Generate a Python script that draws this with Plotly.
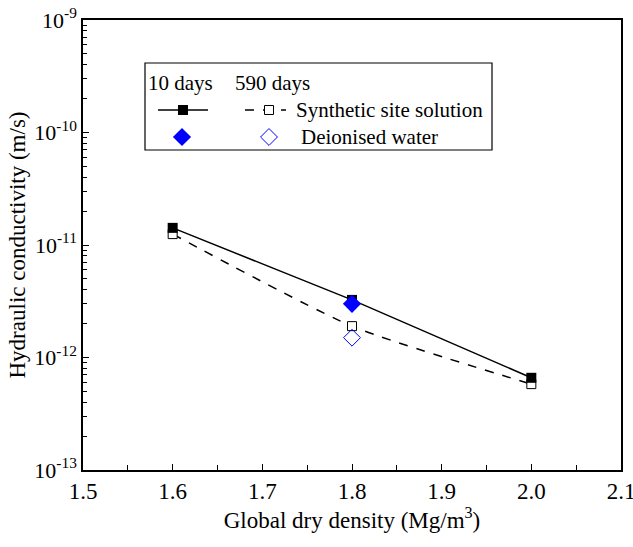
import plotly.graph_objects as go

# ---- data ----
density = [1.6, 1.8, 2.0]
k_ss_10d = [1.42e-11, 3.25e-12, 6.6e-13]
k_ss_590d = [1.25e-11, 1.9e-12, 5.8e-13]
dw_density = [1.8]
k_dw_10d = [3.0e-12]
k_dw_590d = [1.5e-12]

x_ticks = [1.5, 1.6, 1.7, 1.8, 1.9, 2.0, 2.1]
x_ticklabels = ["1.5", "1.6", "1.7", "1.8", "1.9", "2.0", "2.1"]
y_ticks = [1e-13, 1e-12, 1e-11, 1e-10, 1e-9]
y_ticklabels = ["10<sup>-13</sup>", "10<sup>-12</sup>", "10<sup>-11</sup>",
                "10<sup>-10</sup>", "10<sup>-9</sup>"]

legend_header = ["10 days", "590 days"]
legend_rows = ["Synthetic site solution", "Deionised water"]

FONT = "Liberation Serif"
BLUE = "#0000ff"

fig = go.Figure()

fig.add_trace(go.Scatter(
    x=density, y=k_ss_590d, mode="lines+markers",
    line=dict(color="black", width=1.5, dash="dash", shape="spline", smoothing=0.6),
    marker=dict(symbol="square", size=9, color="white", line=dict(color="black", width=1)),
    showlegend=False))
fig.add_trace(go.Scatter(
    x=density, y=k_ss_10d, mode="lines+markers",
    line=dict(color="black", width=1.5),
    marker=dict(symbol="square", size=10, color="black"),
    showlegend=False))
fig.add_trace(go.Scatter(
    x=dw_density, y=k_dw_590d, mode="markers",
    marker=dict(symbol="diamond-open", size=13, color=BLUE, line=dict(color=BLUE, width=1)),
    showlegend=False))
fig.add_trace(go.Scatter(
    x=dw_density, y=k_dw_10d, mode="markers",
    marker=dict(symbol="diamond", size=14, color=BLUE),
    showlegend=False))

# ---- custom legend on a hidden pixel-like overlay axis ----
fig.add_trace(go.Scatter(x=[158, 208], y=[110, 110], xaxis="x2", yaxis="y2", mode="lines",
                         line=dict(color="black", width=1.5), showlegend=False, hoverinfo="skip"))
fig.add_trace(go.Scatter(x=[183], y=[110], xaxis="x2", yaxis="y2", mode="markers",
                         marker=dict(symbol="square", size=10, color="black"),
                         showlegend=False, hoverinfo="skip"))
fig.add_trace(go.Scatter(x=[245, 286], y=[110, 110], xaxis="x2", yaxis="y2", mode="lines",
                         line=dict(color="black", width=1.5, dash="dash"),
                         showlegend=False, hoverinfo="skip"))
fig.add_trace(go.Scatter(x=[269], y=[110], xaxis="x2", yaxis="y2", mode="markers",
                         marker=dict(symbol="square", size=9, color="white",
                                     line=dict(color="black", width=1)),
                         showlegend=False, hoverinfo="skip"))
fig.add_trace(go.Scatter(x=[182], y=[137], xaxis="x2", yaxis="y2", mode="markers",
                         marker=dict(symbol="diamond", size=14, color=BLUE),
                         showlegend=False, hoverinfo="skip"))
fig.add_trace(go.Scatter(x=[269], y=[137], xaxis="x2", yaxis="y2", mode="markers",
                         marker=dict(symbol="diamond-open", size=13, color=BLUE,
                                     line=dict(color=BLUE, width=1)),
                         showlegend=False, hoverinfo="skip"))

fig.add_shape(type="rect", xref="x2", yref="y2", x0=145, x1=492, y0=63, y1=150,
              line=dict(color="black", width=1.2), fillcolor="rgba(0,0,0,0)")

ann_font = dict(family=FONT, size=21, color="black")
fig.add_annotation(x=146, y=83, xref="x2", yref="y2", text=legend_header[0],
                   showarrow=False, xanchor="left", yanchor="middle", font=ann_font)
fig.add_annotation(x=233, y=83, xref="x2", yref="y2", text=legend_header[1],
                   showarrow=False, xanchor="left", yanchor="middle", font=ann_font)
fig.add_annotation(x=294, y=110, xref="x2", yref="y2", text=legend_rows[0],
                   showarrow=False, xanchor="left", yanchor="middle", font=ann_font)
fig.add_annotation(x=299, y=137, xref="x2", yref="y2", text=legend_rows[1],
                   showarrow=False, xanchor="left", yanchor="middle", font=ann_font)

fig.update_layout(
    width=633, height=547,
    margin=dict(l=83, r=12, t=20, b=77, autoexpand=False),
    paper_bgcolor="white", plot_bgcolor="white",
    font=dict(family=FONT, size=20, color="black"),
    xaxis=dict(
        range=[1.5, 2.1], tickvals=x_ticks, ticktext=x_ticklabels,
        ticks="inside", ticklen=6, tickwidth=1.2, tickcolor="black",
        minor=dict(ticks="inside", ticklen=5, tickwidth=1.2, tickcolor="black", dtick=0.05,
                   showgrid=False),
        showline=True, linecolor="black", linewidth=1.5, mirror=True,
        showgrid=False, zeroline=False, automargin=False, ticklabeloverflow="allow",
        title=dict(text="Global dry density (Mg/m<sup>3</sup>)", font=dict(family=FONT, size=23),
                   standoff=8),
        tickfont=dict(family=FONT, size=23),
    ),
    yaxis=dict(
        type="log", range=[-13, -9], tickvals=y_ticks, ticktext=y_ticklabels,
        ticks="inside", ticklen=6, tickwidth=1.2, tickcolor="black",
        minor=dict(ticks="inside", ticklen=4, tickwidth=1.2, tickcolor="black", dtick="D1",
                   showgrid=False),
        showline=True, linecolor="black", linewidth=1.5, mirror=True,
        showgrid=False, zeroline=False, automargin=False, ticklabeloverflow="allow",
        title=dict(text="Hydraulic conductivity (m/s)", font=dict(family=FONT, size=23),
                   standoff=2),
        tickfont=dict(family=FONT, size=22),
    ),
    xaxis2=dict(range=[83, 621], overlaying="x", anchor="y2", visible=False, fixedrange=True),
    yaxis2=dict(range=[470, 20], overlaying="y", anchor="x2", visible=False, fixedrange=True),
)

fig.write_html("out.html", config={"displayModeBar": False},
               post_script="document.body.style.margin='0';")
